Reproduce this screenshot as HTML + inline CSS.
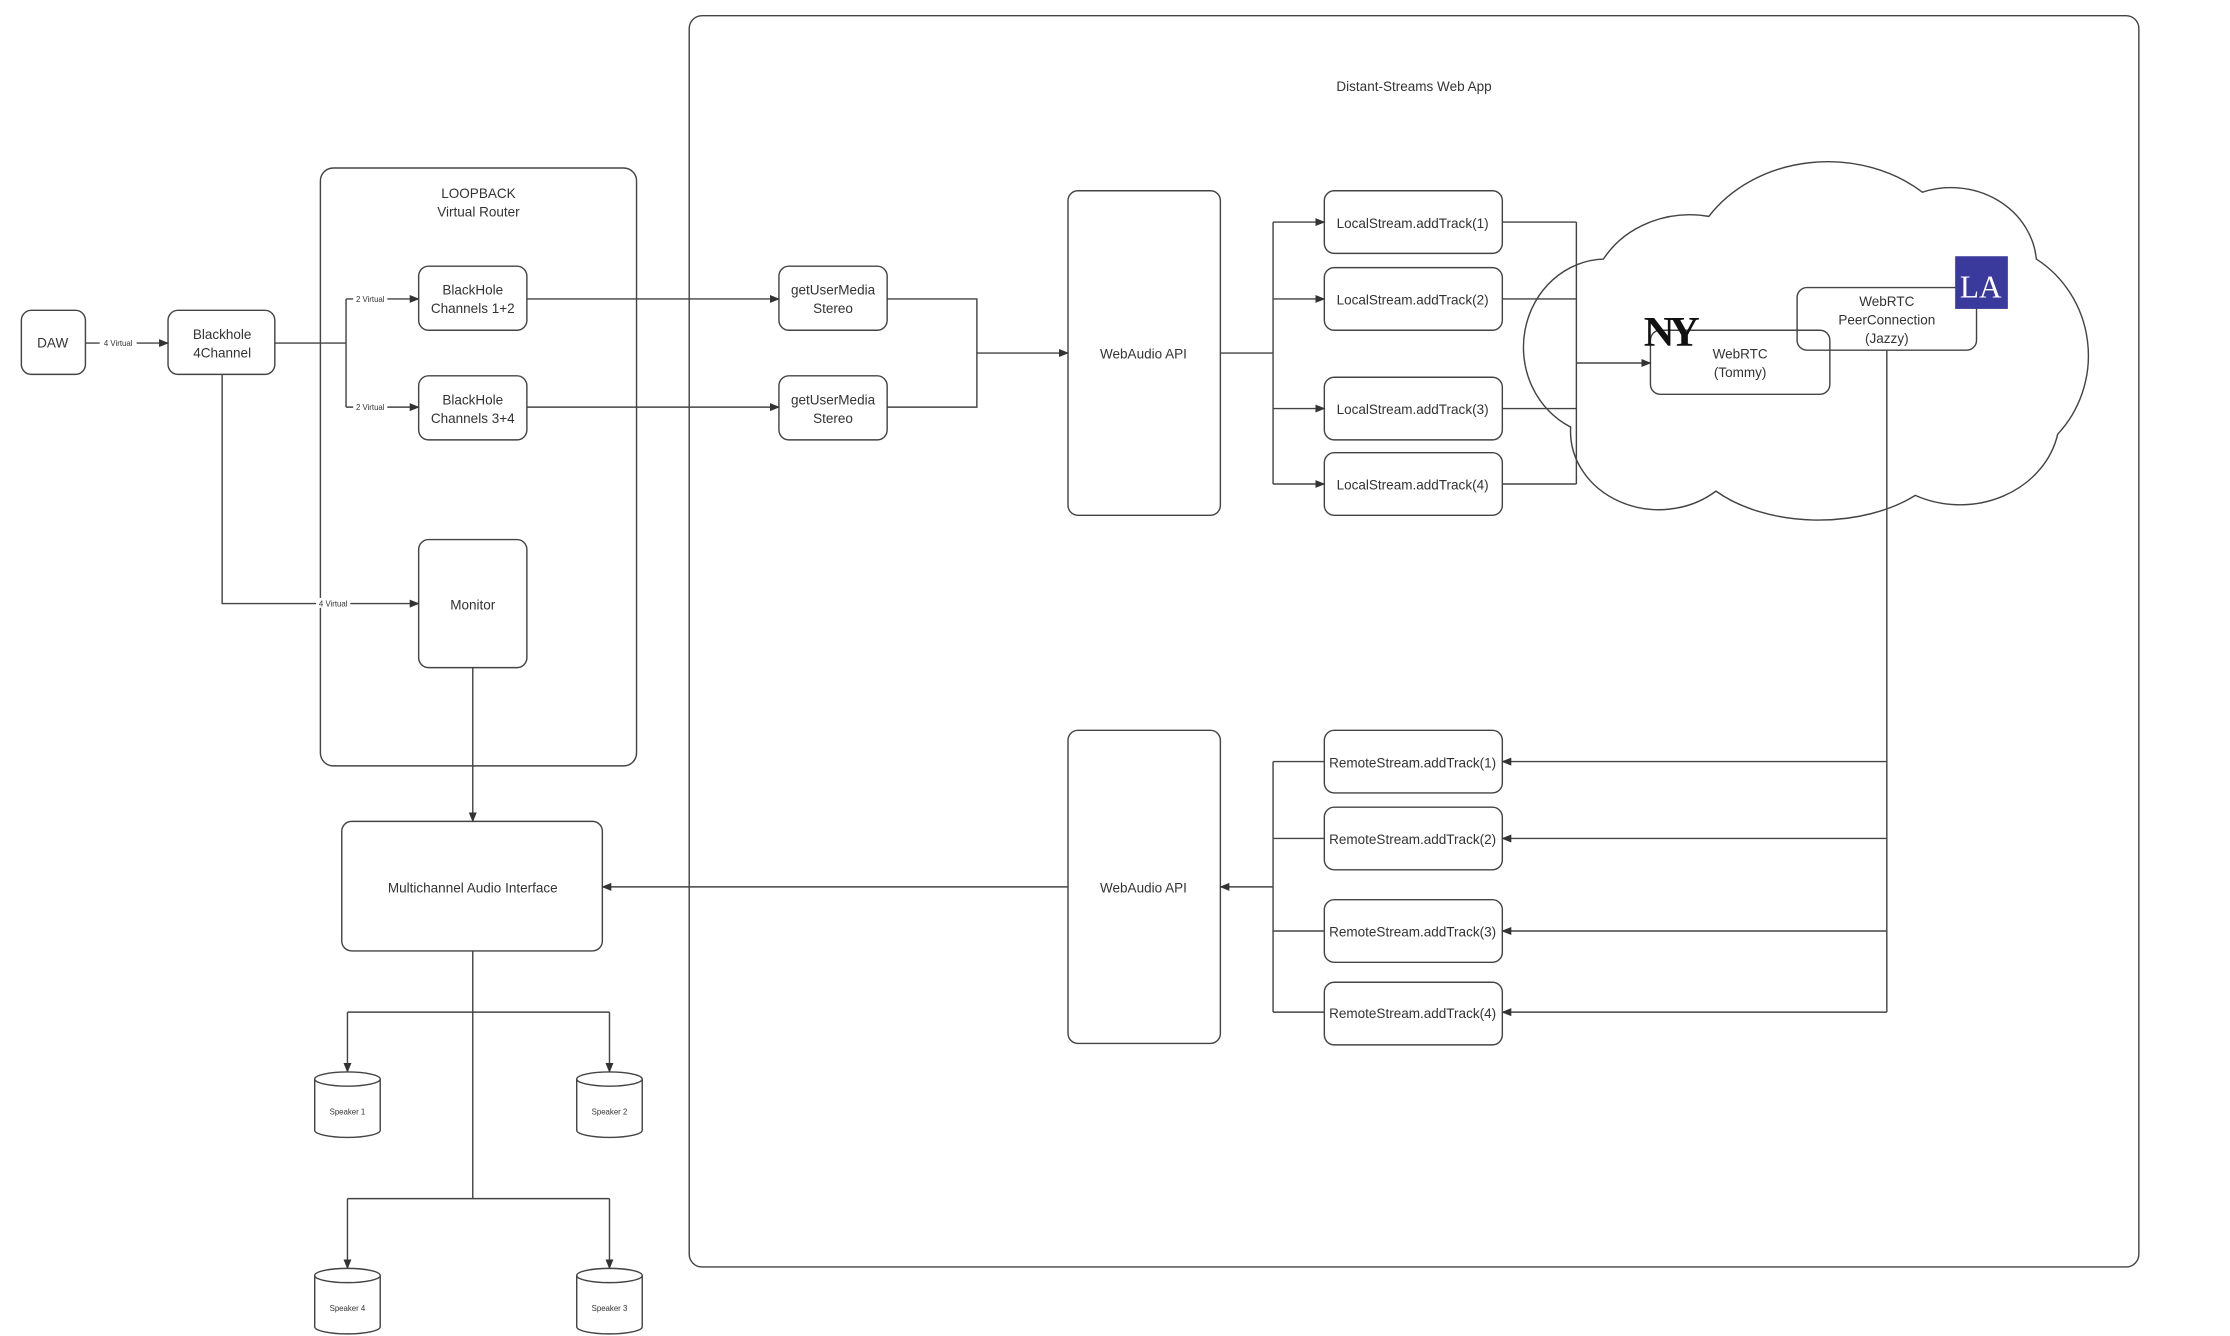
<!DOCTYPE html>
<html><head><meta charset="utf-8"><style>
html,body{margin:0;padding:0;background:#fff;width:2230px;height:1336px;overflow:hidden}
svg{display:block}
text{font-family:"Liberation Sans",sans-serif;fill:#333;text-anchor:middle}
</style></head><body>
<svg width="2230" height="1336" viewBox="0 0 1566 938.5" preserveAspectRatio="none">
<defs><marker id="a" viewBox="0 0 10 10" refX="9" refY="5" markerWidth="7" markerHeight="7" orient="auto"><path d="M0,1 L10,5 L0,9 z" fill="#333"/></marker></defs>
<g fill="none" stroke="#444" stroke-width="1">
<rect x="484" y="11" width="1018" height="879" rx="9"/>
<rect x="225" y="118" width="222" height="420" rx="9"/>
<rect x="15" y="218" width="45" height="45" rx="7"/>
<rect x="118" y="218" width="75" height="45" rx="7"/>
<rect x="294" y="187" width="76" height="45" rx="7"/>
<rect x="294" y="264" width="76" height="45" rx="7"/>
<rect x="294" y="379" width="76" height="90" rx="7"/>
<rect x="240" y="577" width="183" height="91" rx="7"/>
<rect x="547" y="187" width="76" height="45" rx="7"/>
<rect x="547" y="264" width="76" height="45" rx="7"/>
<rect x="750" y="134" width="107" height="228" rx="7"/>
<rect x="750" y="513" width="107" height="220" rx="7"/>
<rect x="930" y="134" width="125" height="44" rx="7"/>
<rect x="930" y="188" width="125" height="44" rx="7"/>
<rect x="930" y="265" width="125" height="44" rx="7"/>
<rect x="930" y="318" width="125" height="44" rx="7"/>
<rect x="930" y="513" width="125" height="44" rx="7"/>
<rect x="930" y="567" width="125" height="44" rx="7"/>
<rect x="930" y="632" width="125" height="44" rx="7"/>
<rect x="930" y="690" width="125" height="44" rx="7"/>
<path d="M1103,300 A58,62 0 0 1 1126,182 A70,62 0 0 1 1200,152 A100,85 0 0 1 1350,135 A60,55 0 0 1 1430,182 A78,80 0 0 1 1445,305 A70,62 0 0 1 1345,348 A95,58 0 0 1 1205,345 A62,55 0 0 1 1103,300 Z" fill="#fff"/>
<rect x="1159" y="232" width="126" height="45" rx="7"/>
<rect x="1262" y="202" width="126" height="44" rx="7"/>
<path d="M60,241 H118" marker-end="url(#a)"/>
<path d="M193,241 H243 M243,210 V286"/>
<path d="M243,210 H294" marker-end="url(#a)"/>
<path d="M243,286 H294" marker-end="url(#a)"/>
<path d="M156,263 V424 H294" marker-end="url(#a)"/>
<path d="M332,469 V577" marker-end="url(#a)"/>
<path d="M370,210 H547" marker-end="url(#a)"/>
<path d="M370,286 H547" marker-end="url(#a)"/>
<path d="M623,210 H686 V286 H623"/>
<path d="M686,248 H750" marker-end="url(#a)"/>
<path d="M857,248 H894 M894,156 V340"/>
<path d="M894,156 H930" marker-end="url(#a)"/>
<path d="M894,210 H930" marker-end="url(#a)"/>
<path d="M894,287 H930" marker-end="url(#a)"/>
<path d="M894,340 H930" marker-end="url(#a)"/>
<path d="M1055,156 H1107 M1055,210 H1107 M1055,287 H1107 M1055,340 H1107 M1107,156 V340"/>
<path d="M1107,255 H1159" marker-end="url(#a)"/>
<path d="M1325,246 V711"/>
<path d="M1325,535 H1055" marker-end="url(#a)"/>
<path d="M1325,589 H1055" marker-end="url(#a)"/>
<path d="M1325,654 H1055" marker-end="url(#a)"/>
<path d="M1325,711 H1055" marker-end="url(#a)"/>
<path d="M930,535 H894 M930,589 H894 M930,654 H894 M930,711 H894 M894,535 V711"/>
<path d="M894,623 H857" marker-end="url(#a)"/>
<path d="M750,623 H423" marker-end="url(#a)"/>
<path d="M332,668 V842 M244,711 H428 M244,842 H428"/>
<path d="M244,711 V753" marker-end="url(#a)"/>
<path d="M428,711 V753" marker-end="url(#a)"/>
<path d="M244,842 V891" marker-end="url(#a)"/>
<path d="M428,842 V891" marker-end="url(#a)"/>
<path d="M221,758 V794 A23,5 0 0 0 267,794 V758 A23,5 0 0 0 221,758 A23,5 0 0 0 267,758" fill="#fff"/>
<path d="M405,758 V794 A23,5 0 0 0 451,794 V758 A23,5 0 0 0 405,758 A23,5 0 0 0 451,758" fill="#fff"/>
<path d="M221,896 V932 A23,5 0 0 0 267,932 V896 A23,5 0 0 0 221,896 A23,5 0 0 0 267,896" fill="#fff"/>
<path d="M405,896 V932 A23,5 0 0 0 451,932 V896 A23,5 0 0 0 405,896 A23,5 0 0 0 451,896" fill="#fff"/>
</g>
<rect x="1373" y="180" width="37" height="37" fill="#3a3a9c"/>
<text x="1391" y="209" style="fill:#fff;font-family:'Liberation Serif',serif;font-size:22px">LA</text>
<text x="1172" y="243" style="fill:#111;font-family:'Liberation Serif',serif;font-size:30px;font-weight:bold;letter-spacing:-4px">NY</text>
<g font-size="9.5">
<text x="993" y="64">Distant-Streams Web App</text>
<text x="336" y="139">LOOPBACK</text><text x="336" y="152">Virtual Router</text>
<text x="37" y="244">DAW</text>
<text x="156" y="238">Blackhole</text><text x="156" y="251">4Channel</text>
<text x="332" y="207">BlackHole</text><text x="332" y="220">Channels 1+2</text>
<text x="332" y="284">BlackHole</text><text x="332" y="297">Channels 3+4</text>
<text x="332" y="428">Monitor</text>
<text x="332" y="627">Multichannel Audio Interface</text>
<text x="585" y="207">getUserMedia</text><text x="585" y="220">Stereo</text>
<text x="585" y="284">getUserMedia</text><text x="585" y="297">Stereo</text>
<text x="803" y="252">WebAudio API</text>
<text x="803" y="627">WebAudio API</text>
<text x="992" y="160">LocalStream.addTrack(1)</text>
<text x="992" y="214">LocalStream.addTrack(2)</text>
<text x="992" y="291">LocalStream.addTrack(3)</text>
<text x="992" y="344">LocalStream.addTrack(4)</text>
<text x="992" y="539">RemoteStream.addTrack(1)</text>
<text x="992" y="593">RemoteStream.addTrack(2)</text>
<text x="992" y="658">RemoteStream.addTrack(3)</text>
<text x="992" y="715">RemoteStream.addTrack(4)</text>
<text x="1222" y="252">WebRTC</text><text x="1222" y="265">(Tommy)</text>
<text x="1325" y="215">WebRTC</text><text x="1325" y="228">PeerConnection</text><text x="1325" y="241">(Jazzy)</text>
</g>
<g font-size="5.5">
<rect x="70" y="237" width="26" height="7" fill="#fff"/><text x="83" y="243">4 Virtual</text>
<rect x="248" y="206" width="24" height="7" fill="#fff"/><text x="260" y="212">2 Virtual</text>
<rect x="248" y="282" width="24" height="7" fill="#fff"/><text x="260" y="288">2 Virtual</text>
<rect x="222" y="420" width="24" height="7" fill="#fff"/><text x="234" y="426">4 Virtual</text>
<text x="244" y="783">Speaker 1</text><text x="428" y="783">Speaker 2</text>
<text x="244" y="921">Speaker 4</text><text x="428" y="921">Speaker 3</text>
</g>
</svg>
</body></html>
